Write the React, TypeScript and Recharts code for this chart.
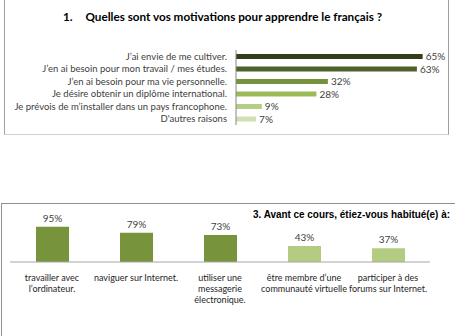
import React from 'react';
import { BarChart, Bar, XAxis, YAxis, Cell, LabelList } from 'recharts';

const motivationLabels = [
  'J’ai envie de me cultiver.',
  'J’en ai besoin pour mon travail / mes études.',
  'J’en ai besoin pour ma vie personnelle.',
  'Je désire obtenir un diplôme international.',
  'Je prévois de m’installer dans un pays francophone.',
  "D'autres raisons",
];
const motivationValues = [65, 63, 32, 28, 9, 7];
const motivationColors = ['#303f19', '#4f6228', '#76923c', '#9bbb59', '#b5ce85', '#d1dfb2'];

const habitLabels = [
  'travailler avec\nl’ordinateur.',
  'naviguer sur Internet.',
  'utiliser une\nmessagerie\nélectronique.',
  'être membre d’une\ncommunauté virtuelle',
  'participer à des\nforums sur Internet.',
];
const habitValues = [95, 79, 73, 43, 37];
const habitColors = ['#77933c', '#77933c', '#77933c', '#b4cc82', '#b4cc82'];

const FONT = 'Lato, "Liberation Sans", sans-serif';

const motivationData = motivationLabels.map((label, i) => ({ label, value: motivationValues[i] }));
const habitData = habitLabels.map((name, i) => ({ name, value: habitValues[i] }));

const pct = (v: any) => `${v}%`;

const MotivationTick = ({ x, y, payload }: any) => (
  <text x={x} y={y} dy={3.5} textAnchor="end" fontSize={9.5} fill="#404040" fontFamily={FONT}>
    {payload.value}
  </text>
);

const HabitTick = ({ x, y, payload }: any) => {
  const lines = String(payload.value).split('\n');
  return (
    <text x={x} y={y} textAnchor="middle" fontSize={9} fill="#262626" fontFamily={FONT}>
      {lines.map((line, i) => (
        <tspan key={i} x={x} dy={i === 0 ? 19 : 11}>{line}</tspan>
      ))}
    </text>
  );
};

export default function App() {
  return (
    <div style={{ position: 'absolute', left: 0, top: 0, width: 455, height: 336, background: '#fff', fontFamily: FONT, overflow: 'hidden' }}>
      {/* top box */}
      <div style={{ position: 'absolute', left: 4, top: -1, width: 443, height: 135, borderLeft: '1px solid #a0a0a0', borderRight: '1px solid #a0a0a0', borderBottom: '1px solid #d0d0d0' }} />
      <div style={{ position: 'absolute', left: 0, top: 9, width: 445, textAlign: 'center', fontWeight: 'bold', fontSize: 11.7, color: '#000' }}>
        1.<span style={{ marginLeft: 13 }}>Quelles sont vos motivations pour apprendre le français ?</span>
      </div>
      <div style={{ position: 'absolute', left: 0, top: 0 }}>
        <BarChart width={455} height={135} data={motivationData} layout="vertical" margin={{ top: 50, right: 18, bottom: 10, left: 0 }}>
          <XAxis type="number" domain={[0, 70]} hide />
          <YAxis
            type="category"
            dataKey="label"
            width={236}
            tickSize={0}
            tickMargin={9}
            axisLine={{ stroke: '#868686' }}
            tickLine={false}
            tick={<MotivationTick />}
            interval={0}
          />
          <Bar dataKey="value" barSize={5} isAnimationActive={false}>
            {motivationData.map((d, i) => (
              <Cell key={d.label} fill={motivationColors[i]} />
            ))}
            <LabelList dataKey="value" position="right" offset={3} formatter={pct} style={{ fontSize: 10, fill: '#404040', fontFamily: FONT }} />
          </Bar>
        </BarChart>
      </div>

      {/* bottom box */}
      <div style={{ position: 'absolute', left: 1, top: 203, width: 460, height: 140, borderLeft: '1px solid #909090', borderTop: '1px solid #909090' }} />
      <svg style={{ position: 'absolute', left: 0, top: 203 }} width={455} height={25}>
        <text x={253} y={15} textLength={197} lengthAdjust="spacingAndGlyphs" fontSize={11.5} fontWeight="bold" fontFamily='"Liberation Sans", sans-serif' fill="#000">
          3. Avant ce cours, étiez-vous habitué(e) à:
        </text>
      </svg>
      <div style={{ position: 'absolute', left: 0, top: 203 }}>
        <BarChart width={455} height={133} data={habitData} margin={{ top: 22, right: 25, bottom: 44, left: 10 }}>
          <XAxis
            dataKey="name"
            axisLine={{ stroke: '#a6a6a6' }}
            tickLine={false}
            tickSize={0}
            tickMargin={0}
            tick={<HabitTick />}
            interval={0}
          />
          <YAxis domain={[0, 100]} hide />
          <Bar dataKey="value" barSize={33} isAnimationActive={false}>
            {habitData.map((d, i) => (
              <Cell key={d.name} fill={habitColors[i]} />
            ))}
            <LabelList dataKey="value" position="top" offset={5} formatter={pct} style={{ fontSize: 10, fill: '#404040', fontFamily: FONT }} />
          </Bar>
        </BarChart>
      </div>
    </div>
  );
}
